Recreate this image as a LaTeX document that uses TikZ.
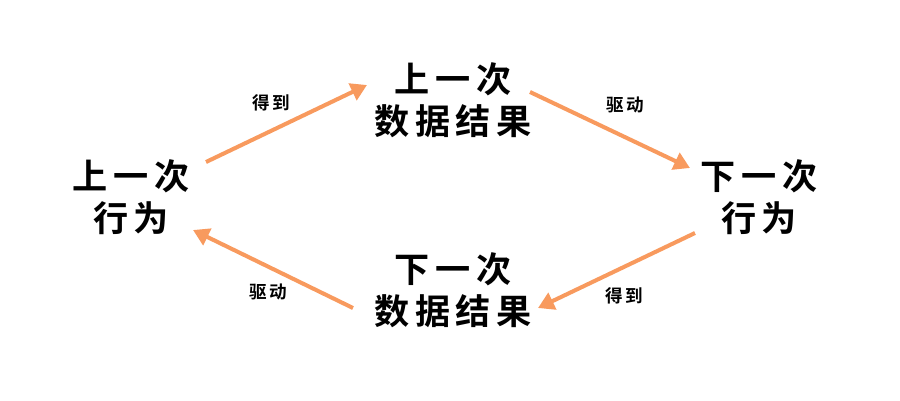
\documentclass[tikz,border=0pt]{standalone}
\usepackage{fontspec}
\newfontfamily\cjk{Noto Sans CJK SC}[BoldFont={Noto Sans CJK SC Bold}]
\usetikzlibrary{arrows.meta}
\definecolor{arrorange}{HTML}{F89A5E}
\tikzset{
  bigtext/.style={align=center,inner sep=0pt,font=\cjk\bfseries\fontsize{20pt}{24pt}\selectfont\addfontfeature{LetterSpace=16}},
  smalltext/.style={inner sep=0pt,font=\cjk\bfseries\fontsize{10pt}{12pt}\selectfont\addfontfeature{LetterSpace=14}},
  flowarr/.style={line width=2.3pt,arrorange,-{Triangle[length=0.32cm,width=0.36cm]}}
}
\begin{document}
\begin{tikzpicture}[x=0.02cm,y=-0.02cm,line cap=butt]
  \useasboundingbox (0,0) rectangle (900,400);
  \node[bigtext] (lastact) at (131,197) {上一次\\行为};
  \node[bigtext] (lastdata) at (453,100) {上一次\\数据结果};
  \node[bigtext] (nextact) at (759,197) {下一次\\行为};
  \node[bigtext] (nextdata) at (453,290) {下一次\\数据结果};
  \draw[flowarr] ([shift={(75,-35)}]lastact.center) -- ([shift={(-86,-15)}]lastdata.center);
  \draw[flowarr] ([shift={(77,-8)}]lastdata.center) -- ([shift={(-69,-29)}]nextact.center);
  \draw[flowarr] ([shift={(-64,36)}]nextact.center) -- ([shift={(85,18)}]nextdata.center);
  \draw[flowarr] ([shift={(-100,18)}]nextdata.center) -- ([shift={(62,33)}]lastact.center);
  \node[smalltext] (get1) at (271,103) {得到};
  \node[smalltext] (drive1) at (625,105) {驱动};
  \node[smalltext] (get2) at (624,296) {得到};
  \node[smalltext] (drive2) at (268,292) {驱动};
\end{tikzpicture}
\end{document}
